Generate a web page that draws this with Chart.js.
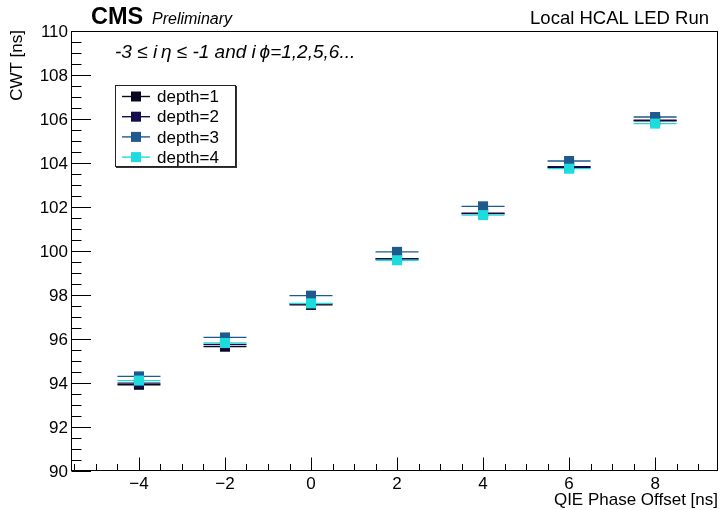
<!DOCTYPE html>
<html>
<head>
<meta charset="utf-8">
<script src="https://cdn.jsdelivr.net/npm/chart.js@4.4.1/dist/chart.umd.min.js"></script>
<style>
  html, body { margin: 0; padding: 0; background: #ffffff; }
  #wrap { width: 725px; height: 510px; }
</style>
</head>
<body>
<div id="wrap"><canvas id="c" width="725" height="510"></canvas></div>
<script>
// QIE phase offset scan, CWT per depth
const phaseOffsets = [-4, -2, 0, 2, 4, 6, 8];
const depth1 = [93.92, 95.65, 97.55, 99.63, 101.70, 103.80, 105.92];
const depth2 = [93.99, 95.75, 97.60, 99.65, 101.72, 103.83, 105.95];
const depth3 = [94.30, 96.07, 97.97, 99.96, 102.03, 104.09, 106.09];
const depth4 = [94.11, 95.82, 97.62, 99.58, 101.63, 103.74, 105.79];
const seriesNames = ['depth=1', 'depth=2', 'depth=3', 'depth=4'];
const xTickValues = [-4, -2, 0, 2, 4, 6, 8];
const yTickValues = [90, 92, 94, 96, 98, 100, 102, 104, 106, 108, 110];
const xErr = 0.5;

const seriesValues = [depth1, depth2, depth3, depth4];
const colors = ['#08081f', '#140c4c', '#1f5a8e', '#1fdcdc'];
const FONT = '"Liberation Sans", Arial, Helvetica, sans-serif';

const datasets = seriesValues.map((vals, i) => ({
  label: seriesNames[i],
  data: vals.map((v, j) => ({ x: phaseOffsets[j], y: v })),
  backgroundColor: colors[i],
  borderColor: colors[i],
  borderWidth: 0,
  pointStyle: 'rect',
  pointRadius: 7.1,
  pointHoverRadius: 7.1,
  showLine: false,
  order: 3 - i
}));

const rootStyle = {
  id: 'rootStyle',
  beforeDatasetsDraw(chart) {
    // horizontal error bars under the markers
    const { ctx, scales: { x, y } } = chart;
    ctx.save();
    ctx.lineWidth = 1.3;
    seriesValues.forEach((vals, i) => {
      ctx.strokeStyle = colors[i];
      vals.forEach((v, j) => {
        const py = y.getPixelForValue(v);
        ctx.beginPath();
        ctx.moveTo(x.getPixelForValue(phaseOffsets[j] - xErr), py);
        ctx.lineTo(x.getPixelForValue(phaseOffsets[j] + xErr), py);
        ctx.stroke();
      });
    });
    ctx.restore();
  },
  afterDraw(chart) {
    const { ctx, chartArea: a, scales: { x, y } } = chart;
    ctx.save();
    ctx.strokeStyle = '#000';
    ctx.fillStyle = '#000';
    ctx.lineWidth = 1;

    // frame
    ctx.strokeRect(Math.round(a.left) + 0.5, Math.round(a.top) + 0.5,
                   Math.round(a.right - a.left) - 1, Math.round(a.bottom - a.top) - 1);

    const bottom = Math.round(a.bottom) - 0.5;
    const left = Math.round(a.left) + 0.5;

    // x ticks (inward)
    ctx.beginPath();
    for (let v = Math.ceil(x.min * 2) / 2; v <= x.max; v += 0.5) {
      const px = Math.round(x.getPixelForValue(v)) + 0.5;
      const major = xTickValues.includes(v);
      ctx.moveTo(px, bottom);
      ctx.lineTo(px, bottom - (major ? 13 : 6.5));
    }
    // y ticks (inward)
    for (let v = y.min; v <= y.max + 1e-9; v += 0.5) {
      const py = Math.round(y.getPixelForValue(v)) + 0.5;
      const major = yTickValues.includes(v);
      ctx.moveTo(left, py);
      ctx.lineTo(left + (major ? 19.5 : 10), py);
    }
    ctx.stroke();

    // tick labels
    ctx.font = '17px ' + FONT;
    ctx.textAlign = 'center';
    ctx.textBaseline = 'alphabetic';
    xTickValues.forEach(v => {
      const t = v < 0 ? '\u2212' + Math.abs(v) : String(v);
      ctx.fillText(t, x.getPixelForValue(v), 489);
    });
    ctx.textAlign = 'right';
    ctx.textBaseline = 'middle';
    yTickValues.forEach(v => {
      ctx.fillText(String(v), 68, y.getPixelForValue(v) + 1);
    });

    // axis titles
    ctx.font = '17px ' + FONT;
    ctx.textAlign = 'right';
    ctx.textBaseline = 'alphabetic';
    ctx.fillText('QIE Phase Offset [ns]', 718, 505);
    ctx.save();
    ctx.translate(22, 30);
    ctx.rotate(-Math.PI / 2);
    ctx.fillText('CWT [ns]', 0, 0);
    ctx.restore();

    // header
    ctx.textAlign = 'left';
    ctx.font = 'bold 23.5px ' + FONT;
    ctx.fillText('CMS', 91, 24);
    ctx.font = 'italic 16px ' + FONT;
    ctx.fillText('Preliminary', 152, 24);
    ctx.textAlign = 'right';
    ctx.font = '18.5px ' + FONT;
    ctx.fillText('Local HCAL LED Run', 709, 24);

    // selection label
    ctx.textAlign = 'left';
    ctx.font = 'italic 19px ' + FONT;
    ctx.fillText('-3 \u2264 i\u2009\u03b7 \u2264 -1 and i\u2009\u03d5=1,2,5,6...', 115, 58);

    // legend box with shadow
    const lx = 115, ly = 85, lw = 121, lh = 82;
    ctx.fillStyle = '#333';
    ctx.fillRect(lx + 1, ly + 1, lw, lh);
    ctx.fillStyle = '#fff';
    ctx.fillRect(lx, ly, lw, lh);
    ctx.strokeStyle = '#222';
    ctx.lineWidth = 1;
    ctx.strokeRect(lx + 0.5, ly + 0.5, lw - 1, lh - 1);

    ctx.font = '17px ' + FONT;
    ctx.textBaseline = 'middle';
    ctx.textAlign = 'left';
    seriesNames.forEach((name, i) => {
      const cy = 96.5 + i * 20.2;
      ctx.strokeStyle = colors[i];
      ctx.lineWidth = 1.4;
      ctx.beginPath();
      ctx.moveTo(122, cy);
      ctx.lineTo(150, cy);
      ctx.stroke();
      ctx.fillStyle = colors[i];
      ctx.fillRect(131, cy - 5, 10, 10);
      ctx.fillStyle = '#000';
      ctx.fillText(name, 157, cy + 1);
    });
    ctx.restore();
  }
};

new Chart(document.getElementById('c'), {
  type: 'scatter',
  data: { datasets },
  options: {
    responsive: false,
    animation: false,
    devicePixelRatio: 1,
    layout: { padding: { left: 71, right: 2, top: 31, bottom: 39 } },
    plugins: { legend: { display: false }, tooltip: { enabled: false } },
    scales: {
      x: { type: 'linear', min: -5.58, max: 9.46, display: false },
      y: { type: 'linear', min: 90, max: 110, display: false }
    }
  },
  plugins: [rootStyle]
});
</script>
</body>
</html>
